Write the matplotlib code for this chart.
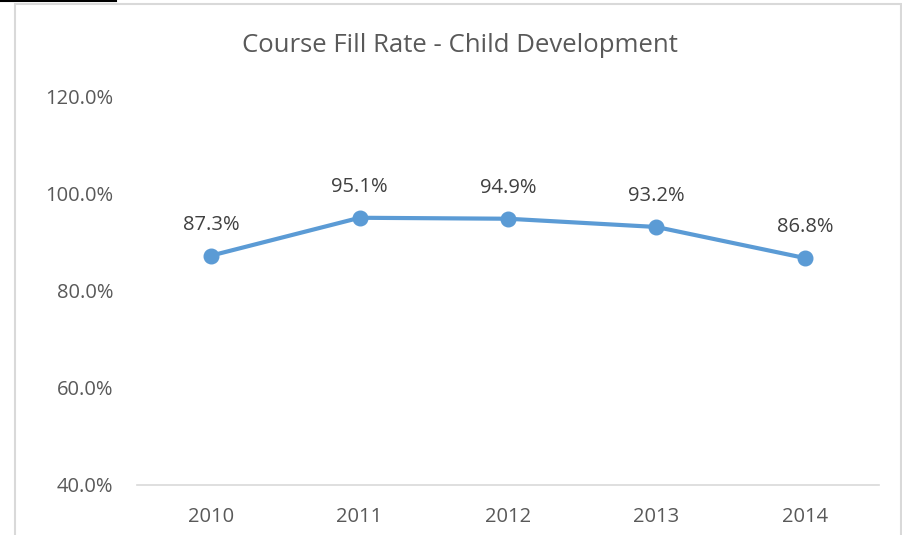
import matplotlib.pyplot as plt
from matplotlib.patches import Rectangle
from matplotlib.lines import Line2D

# Data
years = ['2010', '2011', '2012', '2013', '2014']
fill_rate = [87.3, 95.1, 94.9, 93.2, 86.8]

plt.rcParams['font.family'] = ['Open Sans', 'DejaVu Sans']
text_color = '#595959'

fig = plt.figure(figsize=(9.03, 5.35), dpi=100)
ax = fig.add_axes([137 / 903, 1 - 485 / 535, 742 / 903, 388 / 535])

# chart border and the dark line top-left
fig.patches.append(Rectangle((15 / 903, -0.05), 886 / 903, 1.05 - 4 / 535,
                             transform=fig.transFigure, fill=False,
                             edgecolor='#d9d9d9', linewidth=1.5))
fig.lines.append(Line2D([0, 116 / 903], [1 - 0.8 / 535, 1 - 0.8 / 535],
                        transform=fig.transFigure, color='black', linewidth=1.5))

x = range(len(years))
ax.plot(x, fill_rate, color='#5b9bd5', linewidth=3.0, marker='o',
        markersize=10.5, solid_capstyle='round', zorder=3)

for xi, v in zip(x, fill_rate):
    ax.annotate(f'{v:.1f}%', (xi, v), xytext=(0, 22), textcoords='offset points',
                ha='center', va='center', fontsize=14.5, color='#404040')

ax.set_xlim(-0.5, len(years) - 0.5)
ax.set_ylim(40, 120)
ax.set_yticks([40, 60, 80, 100, 120])
ax.set_yticklabels([f'{t:.1f}%' for t in [40, 60, 80, 100, 120]])
ax.set_xticks(list(x))
ax.set_xticklabels(years)

for s in ['top', 'right', 'left']:
    ax.spines[s].set_visible(False)
ax.spines['bottom'].set_color('#d9d9d9')
ax.spines['bottom'].set_linewidth(1.2)
ax.tick_params(axis='both', length=0, labelsize=14.5, colors=text_color)
ax.tick_params(axis='y', pad=17)
ax.tick_params(axis='x', pad=16)

fig.text(460 / 903, 1 - 45 / 535, 'Course Fill Rate - Child Development',
         ha='center', va='center', fontsize=18.5, color=text_color)

fig.savefig('out.png', dpi=100)
